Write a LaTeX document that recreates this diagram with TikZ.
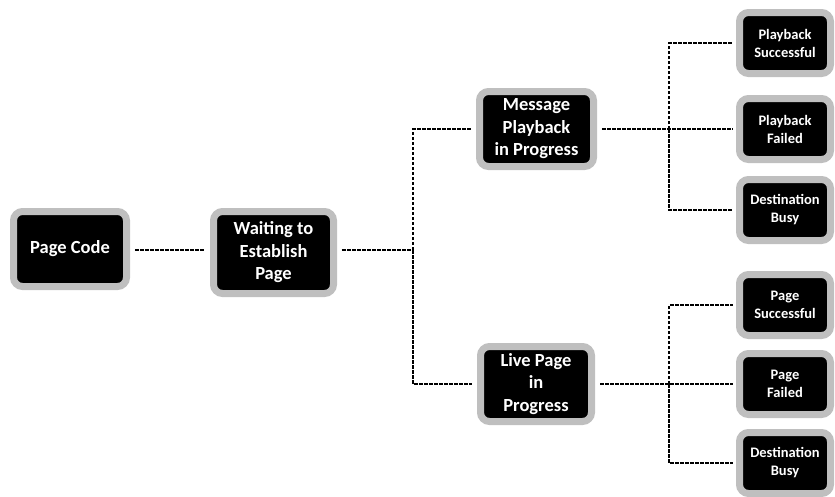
\documentclass[tikz,border=0pt]{standalone}
\usepackage{fontspec}
\setmainfont{Carlito}
\definecolor{boxgray}{RGB}{191,191,191}
\begin{document}
\begin{tikzpicture}[x=1pt,y=-1pt,
  box/.style={fill=black, draw=boxgray, line width=7pt, rounded corners=9pt,
    text=white, align=center, inner sep=0pt},
  big/.style={box, font=\bfseries\fontsize{18.5}{22.5}\selectfont},
  small/.style={box, font=\bfseries\fontsize{14.5}{18}\selectfont,
    minimum width=91pt, minimum height=61pt},
  link/.style={draw=black, line width=1.1pt, dash pattern=on 3.5pt off 1.5pt},
  gap/.style={shorten <=5pt, shorten >=5pt}]
\useasboundingbox (0,0) rectangle (835,496);

\node[big, minimum width=113pt, minimum height=75pt] (pc) at (70,249) {Page Code};
\node[big, minimum width=120pt, minimum height=82pt] (wt) at (273.5,252.5) {Waiting to\\Establish\\Page};
\node[big, minimum width=114pt, minimum height=75pt] (mp) at (536.5,129) {Message\\Playback\\in Progress};
\node[big, minimum width=111pt, minimum height=75pt] (lp) at (536,384) {Live Page\\in\\Progress};

\node[small] (ps) at (785,43) {Playback\\Successful};
\node[small] (pf) at (785,129) {Playback\\Failed};
\node[small] (db1) at (785,210) {Destination\\Busy};
\node[small] (gs) at (785,305) {Page\\Successful};
\node[small] (gf) at (785,384) {Page\\Failed};
\node[small] (db2) at (785,463) {Destination\\Busy};

\coordinate (j1) at (413,250);
\coordinate (j2) at (669,129);
\coordinate (j3) at (669,384);

\draw[link, gap] (pc.east |- 0,250) -- (wt.west |- 0,250);
\draw[link, shorten <=5pt] (wt.east |- j1) -- (j1);
\draw[link, shorten >=5pt] (j1) |- (mp.west);
\draw[link, shorten >=5pt] (j1) |- (lp.west);

\draw[link, shorten <=5pt, shorten >=3.5pt] (mp.east) -- (pf.west);
\draw[link, shorten >=3.5pt] (j2) |- (ps.west);
\draw[link, shorten >=3.5pt] (j2) |- (db1.west);

\draw[link, shorten <=5pt, shorten >=3.5pt] (lp.east) -- (gf.west);
\draw[link, shorten >=3.5pt] (j3) |- (gs.west);
\draw[link, shorten >=3.5pt] (j3) |- (db2.west);
\end{tikzpicture}
\end{document}
